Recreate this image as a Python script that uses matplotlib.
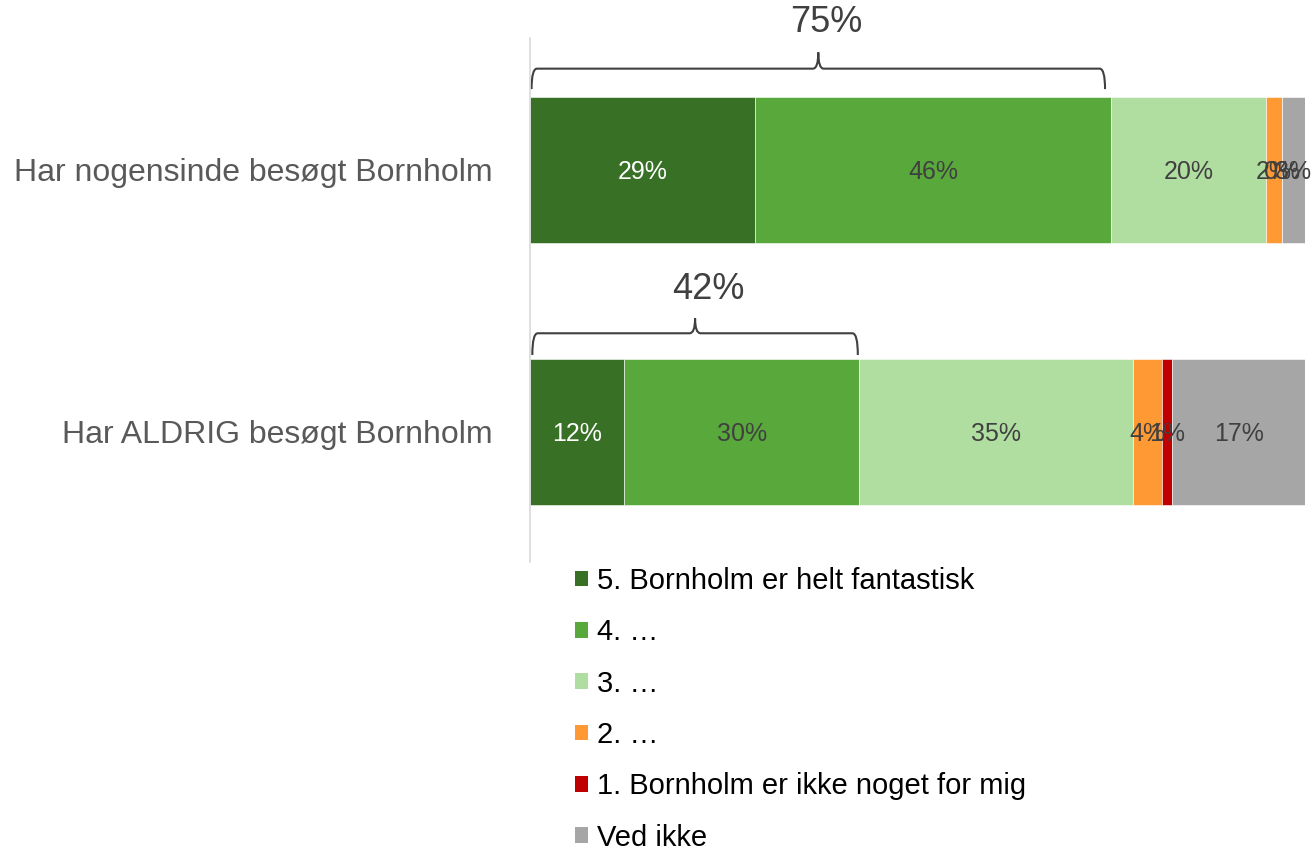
import numpy as np
import matplotlib.pyplot as plt
from matplotlib.path import Path
from matplotlib.patches import PathPatch, Patch

plt.rcParams['font.family'] = ['Liberation Sans', 'DejaVu Sans']

groups = ["Har nogensinde besøgt Bornholm", "Har ALDRIG besøgt Bornholm"]
series = ["5. Bornholm er helt fantastisk", "4. …", "3. …", "2. …",
          "1. Bornholm er ikke noget for mig", "Ved ikke"]
colors = ["#387026", "#58A83C", "#B0DEA0", "#FF9933", "#C00000", "#A6A6A6"]
label_colors = ["white", "#404040", "#404040", "#404040", "#404040", "#404040"]

# share per answer, one row per group
values = np.array([
    [29.0, 46.0, 20.0, 2.0, 0.0, 3.0],
    [12.1, 30.4, 35.3, 3.7, 1.4, 17.1],
])
top_two = [75, 42]

fig = plt.figure(figsize=(13.12, 8.49), dpi=100)
ax = fig.add_axes([530 / 1312, 1 - 562 / 849, 775 / 1312, 524 / 849])

ypos = [1, 0]
bar_h = 0.555
for i, g in enumerate(groups):
    left = 0
    for j, v in enumerate(values[i]):
        ax.barh(ypos[i] - 0.004, v, left=left, height=bar_h, color=colors[j],
                edgecolor="white", linewidth=0.4)
        ax.text(left + v / 2, ypos[i] - 0.012, f"{v:.0f}%", ha="center", va="center",
                fontsize=18, color=label_colors[j])
        left += v


def brace(x0, x1, yb, yh, yt):
    xc = (x0 + x1) / 2
    r = 0.7
    verts = [(x0, yb), (x0, yh), (x0 + r, yh),
             (xc - r, yh), (xc, yh), (xc, yt),
             (xc, yh), (xc + r, yh),
             (x1 - r, yh), (x1, yh), (x1, yb)]
    codes = [Path.MOVETO, Path.CURVE3, Path.CURVE3,
             Path.LINETO, Path.CURVE3, Path.CURVE3,
             Path.CURVE3, Path.CURVE3,
             Path.LINETO, Path.CURVE3, Path.CURVE3]
    ax.add_patch(PathPatch(Path(verts, codes), fill=False, edgecolor="#404040",
                           linewidth=1.5, clip_on=False))


brace(0.2, top_two[0] - 0.8, 1.305, 1.383, 1.445)
ax.text(38.2, 1.56, f"{top_two[0]}%", ha="center", va="center", fontsize=26,
        color="#404040", clip_on=False)
brace(0.3, top_two[1] + 0.3, 0.29, 0.373, 0.43)
ax.text(23.0, 0.54, f"{top_two[1]}%", ha="center", va="center", fontsize=26,
        color="#404040", clip_on=False)

ax.set_xlim(0, 100)
ax.set_ylim(-0.5, 1.5)
ax.set_yticks(ypos)
ax.set_yticklabels(groups, fontsize=23, color="#595959")
ax.tick_params(axis="y", length=0, pad=27)
ax.set_xticks([])
for s in ["top", "right", "bottom"]:
    ax.spines[s].set_visible(False)
ax.spines["left"].set_color("#D9D9D9")
ax.spines["left"].set_linewidth(1.2)

handles = [Patch(facecolor=c, edgecolor="none") for c in colors]
fig.legend(handles, series, loc="upper left", bbox_to_anchor=(575 / 1312, 1 - 567 / 849),
           frameon=False, fontsize=21, handlelength=0.45, handleheight=0.45,
           handletextpad=0.3, labelspacing=0.8, borderpad=0, borderaxespad=0)

fig.savefig("out.png", dpi=100)
